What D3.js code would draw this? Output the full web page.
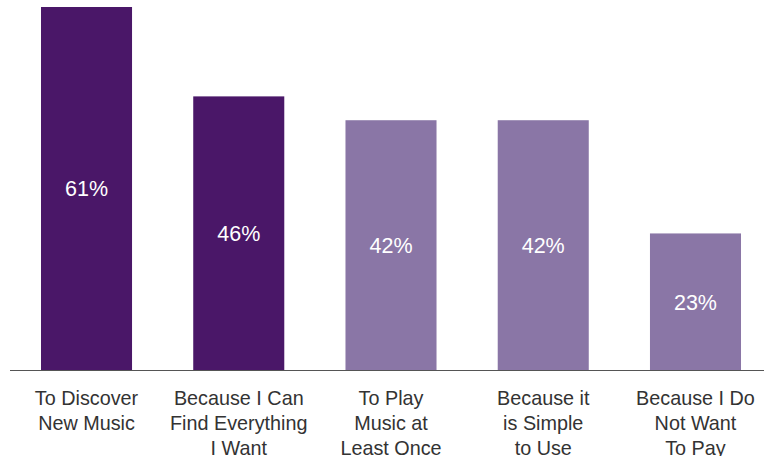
<!DOCTYPE html>
<html><head><meta charset="utf-8">
<script src="https://cdn.jsdelivr.net/npm/d3@7"></script>
<style>body{margin:0;background:#fff}svg{display:block}</style>
</head><body>
<svg id="c" width="764" height="456"></svg>
<script>
const categories = [
  ["To Discover","New Music"],
  ["Because I Can","Find Everything","I Want"],
  ["To Play","Music at","Least Once"],
  ["Because it","is Simple","to Use"],
  ["Because I Do","Not Want","To Pay"]
];
const values = [61, 46, 42, 42, 23];
const highlight = [true, true, false, false, false];
const labels = values.map(v => v + "%");

const svg = d3.select("#c");
const x = d3.scaleBand().domain(d3.range(values.length)).range([10, 772]).paddingInner(0.402).paddingOuter(0.2036);
const y = d3.scaleLinear().domain([0, 61]).range([370.5, 7]);

svg.selectAll("rect.bar").data(values).join("rect")
  .attr("class","bar")
  .attr("x",(d,i)=>x(i)).attr("width",x.bandwidth())
  .attr("y",d=>y(d)).attr("height",d=>y(0)-y(d))
  .attr("fill",(d,i)=>highlight[i] ? "#4A1768" : "#8A76A6");

svg.append("line").attr("x1",10).attr("x2",764).attr("y1",y(0)).attr("y2",y(0))
  .attr("stroke","#555").attr("stroke-width",1);

svg.selectAll("text.val").data(values).join("text")
  .attr("class","val")
  .attr("x",(d,i)=>x(i)+x.bandwidth()/2)
  .attr("y",d=>(y(d)+y(0))/2)
  .attr("dy","0.36em")
  .attr("text-anchor","middle")
  .attr("fill","#fff")
  .attr("font-family","Liberation Sans, Arial, sans-serif")
  .attr("font-size",21.5)
  .text((d,i)=>labels[i]);

const g = svg.selectAll("text.cat").data(categories).join("text")
  .attr("class","cat")
  .attr("text-anchor","middle")
  .attr("fill","#333")
  .attr("font-family","Liberation Sans, Arial, sans-serif")
  .attr("font-size",19.8);
g.each(function(lines,i){
  d3.select(this).selectAll("tspan").data(lines).join("tspan")
    .attr("x",x(i)+x.bandwidth()/2)
    .attr("y",(l,j)=>405+j*25)
    .text(l=>l);
});
</script>
</body></html>
